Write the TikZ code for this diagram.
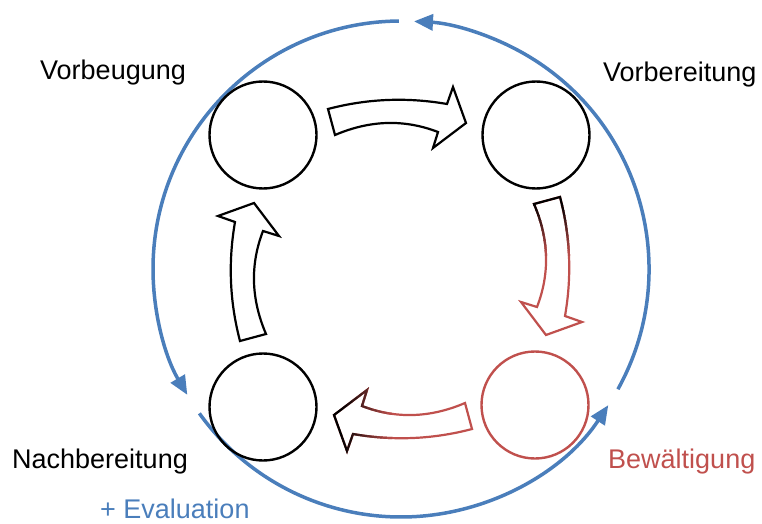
\documentclass[tikz,border=0pt]{standalone}
\usepackage{fontspec}
\setmainfont{Liberation Sans}
\usetikzlibrary{arrows.meta,calc}
\definecolor{myblue}{HTML}{4A7EBB}
\definecolor{myred}{HTML}{C0504D}
\newcommand\BlkArrow[1]{\path[#1] (328,414) .. controls (367,424.3) and (406.7,426) .. (447,419) -- (453,436) -- (466,400) -- (433,375) -- (438,391) .. controls (404.3,404) and (370,403) .. (335,388) -- cycle;}
\begin{document}
\begin{tikzpicture}[x=1pt,y=1pt,
  phase/.style={circle, draw=black, line width=2.4pt, minimum size=107pt, inner sep=0pt},
  blkline/.style={line width=2.2pt, line join=miter},
  cyc/.style={draw=myblue, line width=3.5pt, -{Triangle[length=19pt,width=16pt]}},
  lbl/.style={anchor=base west, inner sep=0pt, font=\fontsize{27}{32}\selectfont}]
\useasboundingbox (0,0) rectangle (762,523);
\coordinate (C) at (401,254);
% outer cycle
\draw[cyc] ($(C)+(331:248)$) arc[start angle=331, end angle=447, radius=248];
\draw[cyc] ($(C)+(90.5:248)$) arc[start angle=90.5, end angle=210.5, radius=248];
\draw[cyc] ($(C)+(215.6:248)$) arc[start angle=215.6, end angle=326.7, radius=248];
% phases
\node[phase] (vb) at (263,388) {};
\node[phase] (vr) at (536,388) {};
\node[phase] (nb) at (263,116) {};
\node[phase, draw=myred] (bw) at (535,118) {};
% block arrows
\BlkArrow{fill=white, draw=black, blkline}
\BlkArrow{fill=white, draw=black, blkline, rotate around={90:(400,254)}}
% right arrow: black to red, top to bottom
\BlkArrow{fill=white, draw=myred, blkline, rotate around={-90:(400,254)}}
\begin{scope}
\clip (0,318) rectangle (762,523);
\BlkArrow{draw=black, blkline, rotate around={-90:(400,254)}}
\end{scope}
\foreach \i in {0,...,9}{
  \pgfmathtruncatemacro\p{95-10*\i}
  \begin{scope}
  \clip (0,{318-5*\i-5}) rectangle (762,{318-5*\i});
  \BlkArrow{draw=black!\p!myred, blkline, rotate around={-90:(400,254)}}
  \end{scope}
}
% bottom arrow: red to black, right to left
\BlkArrow{fill=white, draw=myred, blkline, rotate around={180:(400,254)}}
\begin{scope}
\clip (0,0) rectangle (342,523);
\BlkArrow{draw=black, blkline, rotate around={180:(400,254)}}
\end{scope}
\foreach \i in {0,...,9}{
  \pgfmathtruncatemacro\p{95-10*\i}
  \begin{scope}
  \clip ({342+5*\i},0) rectangle ({342+5*\i+5},523);
  \BlkArrow{draw=black!\p!myred, blkline, rotate around={180:(400,254)}}
  \end{scope}
}
% labels
\node[lbl] (t1) at (40,443) {Vorbeugung};
\node[lbl] (t2) at (603,441) {Vorbereitung};
\node[lbl] (t3) at (12,55) {Nachbereitung};
\node[lbl, text=myred] (t4) at (608,55) {Bewältigung};
\node[lbl, text=myblue] (t5) at (100,5) {+ Evaluation};
\end{tikzpicture}
\end{document}
